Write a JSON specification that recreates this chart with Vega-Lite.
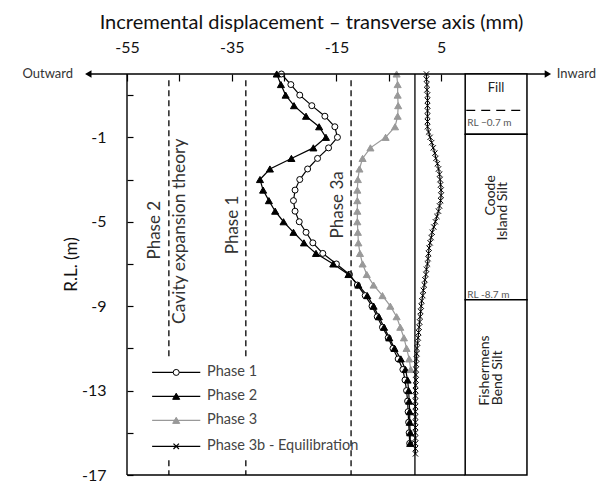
{
  "$schema": "https://vega.github.io/schema/vega-lite/v6.json",
  "width": 423,
  "height": 401,
  "autosize": {"type": "none"},
  "padding": {"left": 127, "top": 74, "right": 63, "bottom": 11},
  "config": {
    "view": {"stroke": null},
    "font": "Lato",
    "axis": {"labelFont": "Lato", "titleFont": "Lato", "labelColor": "#111", "titleColor": "#111", "grid": false, "domainColor": "#000", "tickColor": "#000"}
  },
  "datasets": {
    "profiles": [
      {"s": "Phase 1", "rl": 2.0, "d": -25.5}, {"s": "Phase 1", "rl": 1.5, "d": -23.7}, {"s": "Phase 1", "rl": 1.0, "d": -22.0}, {"s": "Phase 1", "rl": 0.5, "d": -19.7},
      {"s": "Phase 1", "rl": 0.0, "d": -17.2}, {"s": "Phase 1", "rl": -0.5, "d": -15.3}, {"s": "Phase 1", "rl": -1.0, "d": -14.8}, {"s": "Phase 1", "rl": -1.5, "d": -16.5},
      {"s": "Phase 1", "rl": -2.0, "d": -18.6}, {"s": "Phase 1", "rl": -2.5, "d": -20.5}, {"s": "Phase 1", "rl": -3.0, "d": -22.0}, {"s": "Phase 1", "rl": -3.5, "d": -22.9},
      {"s": "Phase 1", "rl": -4.0, "d": -23.2}, {"s": "Phase 1", "rl": -4.5, "d": -22.9}, {"s": "Phase 1", "rl": -5.0, "d": -22.1}, {"s": "Phase 1", "rl": -5.5, "d": -20.8},
      {"s": "Phase 1", "rl": -6.0, "d": -19.5}, {"s": "Phase 1", "rl": -6.5, "d": -17.6}, {"s": "Phase 1", "rl": -7.0, "d": -15.0}, {"s": "Phase 1", "rl": -7.5, "d": -12.5},
      {"s": "Phase 1", "rl": -8.0, "d": -11.0}, {"s": "Phase 1", "rl": -8.5, "d": -9.5}, {"s": "Phase 1", "rl": -9.0, "d": -8.2}, {"s": "Phase 1", "rl": -9.5, "d": -7.2},
      {"s": "Phase 1", "rl": -10.0, "d": -6.2}, {"s": "Phase 1", "rl": -10.5, "d": -5.1}, {"s": "Phase 1", "rl": -11.0, "d": -4.2}, {"s": "Phase 1", "rl": -11.5, "d": -3.2},
      {"s": "Phase 1", "rl": -12.0, "d": -2.3}, {"s": "Phase 1", "rl": -12.5, "d": -1.9}, {"s": "Phase 1", "rl": -13.0, "d": -1.6}, {"s": "Phase 1", "rl": -13.5, "d": -1.4},
      {"s": "Phase 1", "rl": -14.0, "d": -1.3}, {"s": "Phase 1", "rl": -14.5, "d": -1.2}, {"s": "Phase 1", "rl": -15.0, "d": -1.1}, {"s": "Phase 1", "rl": -15.5, "d": -1.0},

      {"s": "Phase 2", "rl": 2.0, "d": -26.4}, {"s": "Phase 2", "rl": 1.5, "d": -25.6}, {"s": "Phase 2", "rl": 1.0, "d": -24.7}, {"s": "Phase 2", "rl": 0.5, "d": -23.1},
      {"s": "Phase 2", "rl": 0.0, "d": -20.8}, {"s": "Phase 2", "rl": -0.5, "d": -18.3}, {"s": "Phase 2", "rl": -1.0, "d": -17.0}, {"s": "Phase 2", "rl": -1.5, "d": -19.4},
      {"s": "Phase 2", "rl": -2.0, "d": -23.6}, {"s": "Phase 2", "rl": -2.5, "d": -27.7}, {"s": "Phase 2", "rl": -3.0, "d": -29.6}, {"s": "Phase 2", "rl": -3.5, "d": -29.0},
      {"s": "Phase 2", "rl": -4.0, "d": -27.9}, {"s": "Phase 2", "rl": -4.5, "d": -26.7}, {"s": "Phase 2", "rl": -5.0, "d": -25.1}, {"s": "Phase 2", "rl": -5.5, "d": -23.2},
      {"s": "Phase 2", "rl": -6.0, "d": -21.2}, {"s": "Phase 2", "rl": -6.5, "d": -18.9}, {"s": "Phase 2", "rl": -7.0, "d": -15.6}, {"s": "Phase 2", "rl": -7.5, "d": -12.7},
      {"s": "Phase 2", "rl": -8.0, "d": -10.8}, {"s": "Phase 2", "rl": -8.5, "d": -9.1}, {"s": "Phase 2", "rl": -9.0, "d": -7.9}, {"s": "Phase 2", "rl": -9.5, "d": -6.9},
      {"s": "Phase 2", "rl": -10.0, "d": -5.9}, {"s": "Phase 2", "rl": -10.5, "d": -4.9}, {"s": "Phase 2", "rl": -11.0, "d": -3.9}, {"s": "Phase 2", "rl": -11.5, "d": -2.7},
      {"s": "Phase 2", "rl": -12.0, "d": -1.8}, {"s": "Phase 2", "rl": -12.5, "d": -1.4}, {"s": "Phase 2", "rl": -13.0, "d": -1.2}, {"s": "Phase 2", "rl": -13.5, "d": -1.1},
      {"s": "Phase 2", "rl": -14.0, "d": -1.0}, {"s": "Phase 2", "rl": -14.5, "d": -1.0}, {"s": "Phase 2", "rl": -15.0, "d": -0.9}, {"s": "Phase 2", "rl": -15.5, "d": -0.9},

      {"s": "Phase 3", "rl": 2.0, "d": -3.5}, {"s": "Phase 3", "rl": 1.5, "d": -3.3}, {"s": "Phase 3", "rl": 1.0, "d": -3.3}, {"s": "Phase 3", "rl": 0.5, "d": -3.2},
      {"s": "Phase 3", "rl": 0.0, "d": -3.3}, {"s": "Phase 3", "rl": -0.5, "d": -3.8}, {"s": "Phase 3", "rl": -1.0, "d": -5.6}, {"s": "Phase 3", "rl": -1.5, "d": -8.5},
      {"s": "Phase 3", "rl": -2.0, "d": -10.0}, {"s": "Phase 3", "rl": -2.5, "d": -10.6}, {"s": "Phase 3", "rl": -3.0, "d": -10.9}, {"s": "Phase 3", "rl": -3.5, "d": -11.0},
      {"s": "Phase 3", "rl": -4.0, "d": -11.0}, {"s": "Phase 3", "rl": -4.5, "d": -11.0}, {"s": "Phase 3", "rl": -5.0, "d": -11.0}, {"s": "Phase 3", "rl": -5.5, "d": -10.9},
      {"s": "Phase 3", "rl": -6.0, "d": -10.8}, {"s": "Phase 3", "rl": -6.5, "d": -10.5}, {"s": "Phase 3", "rl": -7.0, "d": -10.0}, {"s": "Phase 3", "rl": -7.5, "d": -9.2},
      {"s": "Phase 3", "rl": -8.0, "d": -7.9}, {"s": "Phase 3", "rl": -8.5, "d": -6.2}, {"s": "Phase 3", "rl": -9.0, "d": -4.7}, {"s": "Phase 3", "rl": -9.5, "d": -3.5},
      {"s": "Phase 3", "rl": -10.0, "d": -2.8}, {"s": "Phase 3", "rl": -10.5, "d": -2.1}, {"s": "Phase 3", "rl": -11.0, "d": -1.6}, {"s": "Phase 3", "rl": -11.5, "d": -1.1},
      {"s": "Phase 3", "rl": -12.0, "d": -0.8},

      {"s": "Phase 3b - Equilibration", "rl": 2.0, "d": 2.2}, {"s": "Phase 3b - Equilibration", "rl": 1.75, "d": 2.2}, {"s": "Phase 3b - Equilibration", "rl": 1.5, "d": 2.3}, {"s": "Phase 3b - Equilibration", "rl": 1.25, "d": 2.3},
      {"s": "Phase 3b - Equilibration", "rl": 1.0, "d": 2.4}, {"s": "Phase 3b - Equilibration", "rl": 0.75, "d": 2.4}, {"s": "Phase 3b - Equilibration", "rl": 0.5, "d": 2.4}, {"s": "Phase 3b - Equilibration", "rl": 0.25, "d": 2.4},
      {"s": "Phase 3b - Equilibration", "rl": 0.0, "d": 2.4}, {"s": "Phase 3b - Equilibration", "rl": -0.25, "d": 2.4}, {"s": "Phase 3b - Equilibration", "rl": -0.5, "d": 2.4}, {"s": "Phase 3b - Equilibration", "rl": -0.75, "d": 2.6},
      {"s": "Phase 3b - Equilibration", "rl": -1.0, "d": 2.9}, {"s": "Phase 3b - Equilibration", "rl": -1.25, "d": 3.2}, {"s": "Phase 3b - Equilibration", "rl": -1.5, "d": 3.5}, {"s": "Phase 3b - Equilibration", "rl": -1.75, "d": 3.8},
      {"s": "Phase 3b - Equilibration", "rl": -2.0, "d": 4.0}, {"s": "Phase 3b - Equilibration", "rl": -2.25, "d": 4.3}, {"s": "Phase 3b - Equilibration", "rl": -2.5, "d": 4.5}, {"s": "Phase 3b - Equilibration", "rl": -2.75, "d": 4.7},
      {"s": "Phase 3b - Equilibration", "rl": -3.0, "d": 4.8}, {"s": "Phase 3b - Equilibration", "rl": -3.25, "d": 4.9}, {"s": "Phase 3b - Equilibration", "rl": -3.5, "d": 5.0}, {"s": "Phase 3b - Equilibration", "rl": -3.75, "d": 5.0},
      {"s": "Phase 3b - Equilibration", "rl": -4.0, "d": 4.9}, {"s": "Phase 3b - Equilibration", "rl": -4.25, "d": 4.7}, {"s": "Phase 3b - Equilibration", "rl": -4.5, "d": 4.5}, {"s": "Phase 3b - Equilibration", "rl": -4.75, "d": 4.2},
      {"s": "Phase 3b - Equilibration", "rl": -5.0, "d": 3.9}, {"s": "Phase 3b - Equilibration", "rl": -5.25, "d": 3.6}, {"s": "Phase 3b - Equilibration", "rl": -5.5, "d": 3.3}, {"s": "Phase 3b - Equilibration", "rl": -5.75, "d": 3.1},
      {"s": "Phase 3b - Equilibration", "rl": -6.0, "d": 2.9}, {"s": "Phase 3b - Equilibration", "rl": -6.25, "d": 2.7}, {"s": "Phase 3b - Equilibration", "rl": -6.5, "d": 2.6}, {"s": "Phase 3b - Equilibration", "rl": -6.75, "d": 2.5},
      {"s": "Phase 3b - Equilibration", "rl": -7.0, "d": 2.4}, {"s": "Phase 3b - Equilibration", "rl": -7.25, "d": 2.2}, {"s": "Phase 3b - Equilibration", "rl": -7.5, "d": 2.1}, {"s": "Phase 3b - Equilibration", "rl": -7.75, "d": 1.9},
      {"s": "Phase 3b - Equilibration", "rl": -8.0, "d": 1.8}, {"s": "Phase 3b - Equilibration", "rl": -8.25, "d": 1.6}, {"s": "Phase 3b - Equilibration", "rl": -8.5, "d": 1.5}, {"s": "Phase 3b - Equilibration", "rl": -8.75, "d": 1.3},
      {"s": "Phase 3b - Equilibration", "rl": -9.0, "d": 1.2}, {"s": "Phase 3b - Equilibration", "rl": -9.25, "d": 1.1}, {"s": "Phase 3b - Equilibration", "rl": -9.5, "d": 1.0}, {"s": "Phase 3b - Equilibration", "rl": -9.75, "d": 0.9},
      {"s": "Phase 3b - Equilibration", "rl": -10.0, "d": 0.8}, {"s": "Phase 3b - Equilibration", "rl": -10.25, "d": 0.7}, {"s": "Phase 3b - Equilibration", "rl": -10.5, "d": 0.6}, {"s": "Phase 3b - Equilibration", "rl": -10.75, "d": 0.5},
      {"s": "Phase 3b - Equilibration", "rl": -11.0, "d": 0.4}, {"s": "Phase 3b - Equilibration", "rl": -11.25, "d": 0.35}, {"s": "Phase 3b - Equilibration", "rl": -11.5, "d": 0.3}, {"s": "Phase 3b - Equilibration", "rl": -11.75, "d": 0.25},
      {"s": "Phase 3b - Equilibration", "rl": -12.0, "d": 0.2}, {"s": "Phase 3b - Equilibration", "rl": -12.25, "d": 0.2}, {"s": "Phase 3b - Equilibration", "rl": -12.5, "d": 0.2}, {"s": "Phase 3b - Equilibration", "rl": -12.75, "d": 0.15},
      {"s": "Phase 3b - Equilibration", "rl": -13.0, "d": 0.1}, {"s": "Phase 3b - Equilibration", "rl": -13.25, "d": 0.1}, {"s": "Phase 3b - Equilibration", "rl": -13.5, "d": 0.1}, {"s": "Phase 3b - Equilibration", "rl": -13.75, "d": 0.1},
      {"s": "Phase 3b - Equilibration", "rl": -14.0, "d": 0.1}, {"s": "Phase 3b - Equilibration", "rl": -14.25, "d": 0.1}, {"s": "Phase 3b - Equilibration", "rl": -14.5, "d": 0.1}, {"s": "Phase 3b - Equilibration", "rl": -14.75, "d": 0.1},
      {"s": "Phase 3b - Equilibration", "rl": -15.0, "d": 0.1}, {"s": "Phase 3b - Equilibration", "rl": -15.25, "d": 0.1}, {"s": "Phase 3b - Equilibration", "rl": -15.5, "d": 0.1}, {"s": "Phase 3b - Equilibration", "rl": -15.75, "d": 0.1},
      {"s": "Phase 3b - Equilibration", "rl": -16.0, "d": 0.1}
    ],
    "soil": [
      {"layer": "Fill", "top": 2, "bottom": -0.85},
      {"layer": "Coode Island Silt", "top": -0.85, "bottom": -8.7},
      {"layer": "Fishermens Bend Silt", "top": -8.7, "bottom": -17}
    ],
    "theory": [
      {"phase": "Phase 2 cavity expansion", "d": -47},
      {"phase": "Phase 1", "d": -32.3},
      {"phase": "Phase 3a", "d": -12.2}
    ],
    "one": [{}]
  },
  "layer": [
    {
      "data": {"name": "profiles"},
      "mark": {"type": "line", "strokeWidth": 1.2},
      "encoding": {
        "x": {
          "field": "d", "type": "quantitative",
          "scale": {"domain": [-55, 25.8], "nice": false, "zero": false},
          "axis": {
            "orient": "top", "values": [-55, -45, -35, -25, -15, -5, 5],
            "labelExpr": "(datum.value == -55 || datum.value == -35 || datum.value == -15 || datum.value == 5) ? '' + datum.value : ''",
            "domain": false, "tickSize": -7, "tickWidth": 1.2, "labelPadding": 26, "labelFontSize": 16,
            "labelFlush": false, "labelOverlap": false,
            "title": "Incremental displacement – transverse axis (mm)", "titleFontSize": 20, "titleFontWeight": "normal",
            "titleX": 184, "titleY": -46, "titleBaseline": "alphabetic", "titleAlign": "center"
          }
        },
        "y": {
          "field": "rl", "type": "quantitative",
          "scale": {"domain": [-17, 2], "nice": false, "zero": false},
          "axis": {
            "values": [1, -1, -3, -5, -7, -9, -11, -13, -15, -17],
            "labelExpr": "(datum.value == -1 || datum.value == -5 || datum.value == -9 || datum.value == -13 || datum.value == -17) ? '' + datum.value : ''",
            "domain": false,
            "tickSize": -6, "tickWidth": 1.2, "labelPadding": 27, "labelFontSize": 16,
            "labelFlush": false, "labelOverlap": false,
            "title": "R.L. (m)", "titleFontSize": 17, "titleFontWeight": "normal",
            "titleX": -56, "titleY": 190, "titleAngle": -90, "titleAlign": "center", "titleBaseline": "middle"
          }
        },
        "color": {
          "field": "s", "type": "nominal",
          "scale": {"domain": ["Phase 1", "Phase 2", "Phase 3", "Phase 3b - Equilibration"], "range": ["#000000", "#000000", "#999999", "#000000"]},
          "legend": null
        },
        "order": {"field": "rl", "sort": "descending"}
      }
    },
    {
      "data": {"name": "profiles"},
      "transform": [{"filter": "datum.s === 'Phase 1'"}],
      "mark": {"type": "point", "shape": "circle", "filled": true, "fill": "#ffffff", "stroke": "#000000", "strokeWidth": 1.0, "size": 36, "opacity": 1},
      "encoding": {"x": {"field": "d", "type": "quantitative"}, "y": {"field": "rl", "type": "quantitative"}}
    },
    {
      "data": {"name": "profiles"},
      "transform": [{"filter": "datum.s === 'Phase 2'"}],
      "mark": {"type": "point", "shape": "triangle-up", "filled": true, "fill": "#000000", "stroke": "#000000", "strokeWidth": 1.0, "size": 50, "opacity": 1},
      "encoding": {"x": {"field": "d", "type": "quantitative"}, "y": {"field": "rl", "type": "quantitative"}}
    },
    {
      "data": {"name": "profiles"},
      "transform": [{"filter": "datum.s === 'Phase 3'"}],
      "mark": {"type": "point", "shape": "triangle-up", "filled": true, "fill": "#999999", "stroke": "#999999", "strokeWidth": 1.0, "size": 50, "opacity": 1},
      "encoding": {"x": {"field": "d", "type": "quantitative"}, "y": {"field": "rl", "type": "quantitative"}}
    },
    {
      "data": {"name": "profiles"},
      "transform": [{"filter": "datum.s === 'Phase 3b - Equilibration'"}],
      "mark": {"type": "point", "shape": "M-1,-1L1,1M-1,1L1,-1", "filled": false, "stroke": "#000000", "strokeWidth": 1.0, "size": 28, "opacity": 1},
      "encoding": {"x": {"field": "d", "type": "quantitative"}, "y": {"field": "rl", "type": "quantitative"}}
    },
    {
      "data": {"name": "theory"},
      "mark": {"type": "rule", "strokeDash": [6, 4], "strokeWidth": 1.3, "color": "#000"},
      "encoding": {"x": {"field": "d", "type": "quantitative"}, "y": {"datum": 1.7}, "y2": {"datum": -17}}
    },
    {
      "data": {"name": "one"},
      "mark": {"type": "rule", "strokeWidth": 1.3, "color": "#000"},
      "encoding": {"x": {"datum": 0}, "y": {"datum": 2}, "y2": {"datum": -17}}
    },
    {
      "data": {"name": "one"},
      "mark": {"type": "rule", "strokeWidth": 1.4, "color": "#000"},
      "encoding": {"x": {"datum": -55}, "y": {"datum": 2}, "y2": {"datum": -17}}
    },
    {
      "data": {"name": "one"},
      "mark": {"type": "rule", "strokeWidth": 1.4, "color": "#000"},
      "encoding": {"x": {"datum": -62}, "x2": {"datum": 25}, "y": {"datum": 2}}
    },
    {
      "data": {"name": "one"},
      "mark": {"type": "rule", "strokeWidth": 1.4, "color": "#000"},
      "encoding": {"x": {"datum": -55}, "x2": {"datum": 9.6}, "y": {"datum": -17}}
    },
    {
      "data": {"name": "one"},
      "mark": {"type": "point", "shape": "triangle-left", "filled": true, "size": 55, "color": "#000", "opacity": 1},
      "encoding": {"x": {"datum": -62.4}, "y": {"datum": 2}}
    },
    {
      "data": {"name": "one"},
      "mark": {"type": "point", "shape": "triangle-right", "filled": true, "size": 55, "color": "#000", "opacity": 1},
      "encoding": {"x": {"datum": 25.4}, "y": {"datum": 2}}
    },
    {
      "data": {"name": "one"},
      "mark": {"type": "text", "align": "right", "baseline": "middle", "fontSize": 13, "color": "#333", "font": "Lato"},
      "encoding": {"x": {"datum": -65.3}, "y": {"datum": 2}, "text": {"value": "Outward"}}
    },
    {
      "data": {"name": "one"},
      "mark": {"type": "text", "align": "left", "baseline": "middle", "fontSize": 13, "color": "#333", "font": "Lato"},
      "encoding": {"x": {"datum": 27.1}, "y": {"datum": 2}, "text": {"value": "Inward"}}
    },
    {
      "data": {"name": "soil"},
      "mark": {"type": "rect", "fill": "#ffffff", "stroke": "#000", "strokeWidth": 1.5},
      "encoding": {"x": {"datum": 9.6}, "x2": {"datum": 21.4}, "y": {"field": "top", "type": "quantitative"}, "y2": {"field": "bottom"}}
    },
    {
      "data": {"name": "one"},
      "mark": {"type": "rule", "strokeWidth": 1.3, "strokeDash": [9, 6], "color": "#000"},
      "encoding": {"x": {"datum": 9.8}, "x2": {"datum": 21.2}, "y": {"datum": 0.28}}
    },
    {
      "data": {"name": "one"},
      "mark": {"type": "text", "align": "center", "baseline": "middle", "fontSize": 13, "color": "#222", "font": "Lato"},
      "encoding": {"x": {"datum": 15.5}, "y": {"datum": 1.32}, "text": {"value": "Fill"}}
    },
    {
      "data": {"name": "one"},
      "mark": {"type": "text", "align": "left", "baseline": "middle", "fontSize": 10, "color": "#555", "font": "Lato"},
      "encoding": {"x": {"datum": 10.0}, "y": {"datum": -0.3}, "text": {"value": "RL −0.7 m"}}
    },
    {
      "data": {"name": "one"},
      "mark": {"type": "text", "align": "left", "baseline": "middle", "fontSize": 10, "color": "#555", "font": "Lato"},
      "encoding": {"x": {"datum": 10.0}, "y": {"datum": -8.45}, "text": {"value": "RL -8.7 m"}}
    },
    {
      "data": {"name": "one"},
      "mark": {"type": "text", "align": "center", "baseline": "middle", "angle": 270, "fontSize": 14, "color": "#222", "font": "Lato"},
      "encoding": {"x": {"datum": 14.5}, "y": {"datum": -3.75}, "text": {"value": "Coode"}}
    },
    {
      "data": {"name": "one"},
      "mark": {"type": "text", "align": "center", "baseline": "middle", "angle": 270, "fontSize": 14, "color": "#222", "font": "Lato"},
      "encoding": {"x": {"datum": 16.9}, "y": {"datum": -4.5}, "text": {"value": "Island Silt"}}
    },
    {
      "data": {"name": "one"},
      "mark": {"type": "text", "align": "center", "baseline": "middle", "angle": 270, "fontSize": 14, "color": "#222", "font": "Lato"},
      "encoding": {"x": {"datum": 13.4}, "y": {"datum": -12.05}, "text": {"value": "Fishermens"}}
    },
    {
      "data": {"name": "one"},
      "mark": {"type": "text", "align": "center", "baseline": "middle", "angle": 270, "fontSize": 14, "color": "#222", "font": "Lato"},
      "encoding": {"x": {"datum": 15.9}, "y": {"datum": -12.4}, "text": {"value": "Bend Silt"}}
    },
    {
      "data": {"name": "one"},
      "mark": {"type": "text", "align": "center", "baseline": "middle", "angle": 270, "fontSize": 17, "color": "#333", "font": "Lato"},
      "encoding": {"x": {"datum": -49.6}, "y": {"datum": -5.4}, "text": {"value": "Phase 2"}}
    },
    {
      "data": {"name": "one"},
      "mark": {"type": "text", "align": "center", "baseline": "middle", "angle": 270, "fontSize": 17.5, "color": "#333", "font": "Lato"},
      "encoding": {"x": {"datum": -44.9}, "y": {"datum": -5.45}, "text": {"value": "Cavity expansion theory"}}
    },
    {
      "data": {"name": "one"},
      "mark": {"type": "text", "align": "center", "baseline": "middle", "angle": 270, "fontSize": 17, "color": "#333", "font": "Lato"},
      "encoding": {"x": {"datum": -34.7}, "y": {"datum": -5.15}, "text": {"value": "Phase 1"}}
    },
    {
      "data": {"name": "one"},
      "mark": {"type": "text", "align": "center", "baseline": "middle", "angle": 270, "fontSize": 17, "color": "#333", "font": "Lato"},
      "encoding": {"x": {"datum": -14.7}, "y": {"datum": -4.2}, "text": {"value": "Phase 3a"}}
    },
    {
      "data": {"name": "one"},
      "mark": {"type": "rect", "fill": "#ffffff", "stroke": null},
      "encoding": {"x": {"datum": -51.4}, "x2": {"datum": -14.6}, "y": {"datum": -11.45}, "y2": {"datum": -16.25}}
    },
    {
      "data": {"name": "one"},
      "mark": {"type": "rule", "strokeWidth": 1.3, "color": "#000"},
      "encoding": {"x": {"datum": -50.2}, "x2": {"datum": -41.0}, "y": {"datum": -12.14}}
    },
    {
      "data": {"name": "one"},
      "mark": {"type": "rule", "strokeWidth": 1.3, "color": "#000"},
      "encoding": {"x": {"datum": -50.2}, "x2": {"datum": -41.0}, "y": {"datum": -13.27}}
    },
    {
      "data": {"name": "one"},
      "mark": {"type": "rule", "strokeWidth": 1.3, "color": "#999999"},
      "encoding": {"x": {"datum": -50.2}, "x2": {"datum": -41.0}, "y": {"datum": -14.41}}
    },
    {
      "data": {"name": "one"},
      "mark": {"type": "rule", "strokeWidth": 1.3, "color": "#000"},
      "encoding": {"x": {"datum": -50.2}, "x2": {"datum": -41.0}, "y": {"datum": -15.64}}
    },
    {
      "data": {"name": "one"},
      "mark": {"type": "point", "shape": "circle", "filled": true, "fill": "#ffffff", "stroke": "#000000", "strokeWidth": 1.0, "size": 36, "opacity": 1},
      "encoding": {"x": {"datum": -45.6}, "y": {"datum": -12.14}}
    },
    {
      "data": {"name": "one"},
      "mark": {"type": "point", "shape": "triangle-up", "filled": true, "fill": "#000000", "stroke": "#000000", "strokeWidth": 1.0, "size": 50, "opacity": 1},
      "encoding": {"x": {"datum": -45.6}, "y": {"datum": -13.27}}
    },
    {
      "data": {"name": "one"},
      "mark": {"type": "point", "shape": "triangle-up", "filled": true, "fill": "#999999", "stroke": "#999999", "strokeWidth": 1.0, "size": 50, "opacity": 1},
      "encoding": {"x": {"datum": -45.6}, "y": {"datum": -14.41}}
    },
    {
      "data": {"name": "one"},
      "mark": {"type": "point", "shape": "M-1,-1L1,1M-1,1L1,-1", "filled": true, "fill": "#ffffff", "stroke": "#000000", "strokeWidth": 1.2, "size": 30, "opacity": 1},
      "encoding": {"x": {"datum": -45.6}, "y": {"datum": -15.64}}
    },
    {
      "data": {"name": "one"},
      "mark": {"type": "text", "align": "left", "baseline": "middle", "fontSize": 14.5, "color": "#444", "font": "Lato"},
      "encoding": {"x": {"datum": -39.7}, "y": {"datum": -12.14}, "text": {"value": "Phase 1"}}
    },
    {
      "data": {"name": "one"},
      "mark": {"type": "text", "align": "left", "baseline": "middle", "fontSize": 14.5, "color": "#444", "font": "Lato"},
      "encoding": {"x": {"datum": -39.7}, "y": {"datum": -13.27}, "text": {"value": "Phase 2"}}
    },
    {
      "data": {"name": "one"},
      "mark": {"type": "text", "align": "left", "baseline": "middle", "fontSize": 14.5, "color": "#444", "font": "Lato"},
      "encoding": {"x": {"datum": -39.7}, "y": {"datum": -14.41}, "text": {"value": "Phase 3"}}
    },
    {
      "data": {"name": "one"},
      "mark": {"type": "text", "align": "left", "baseline": "middle", "fontSize": 14.5, "color": "#444", "font": "Lato"},
      "encoding": {"x": {"datum": -39.7}, "y": {"datum": -15.64}, "text": {"value": "Phase 3b - Equilibration"}}
    }
  ]
}
